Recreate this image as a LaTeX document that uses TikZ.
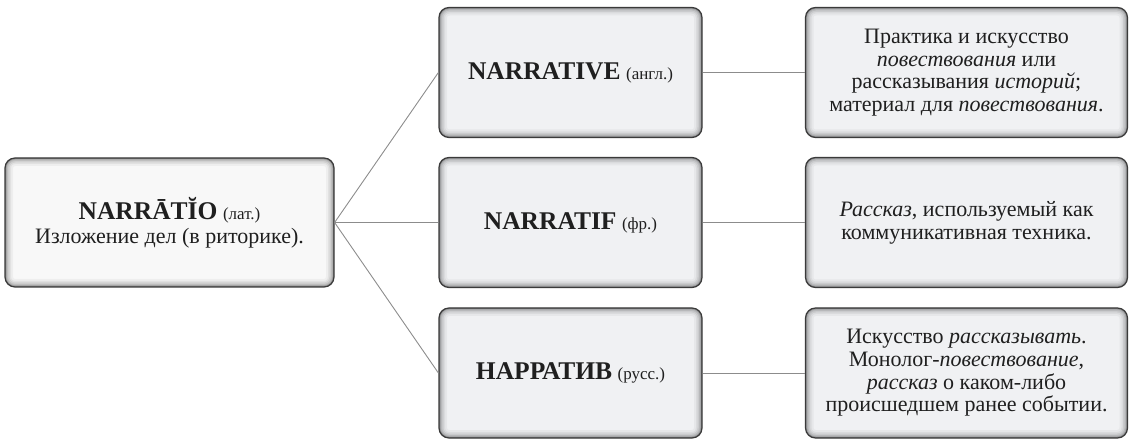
\documentclass[tikz,border=0pt]{standalone}
\usepackage{fontspec}
\setmainfont{Liberation Serif}
\definecolor{boxline}{HTML}{3A3A3A}
\definecolor{fillL}{HTML}{F8F8F8}
\definecolor{fillM}{HTML}{F0F1F3}
\definecolor{connc}{HTML}{8C8C8C}
\tikzset{
  shbox/.style={rounded corners=10pt, draw=boxline, line width=1.2pt, align=center,
    inner sep=0pt, font=\fontsize{22}{22.7}\selectfont, text=black!88,
    path picture={
      \foreach \w/\o in {16/0.04,12/0.05,9/0.07,6/0.09,3.5/0.12,1.8/0.18}{
        \draw[rounded corners=10pt, line width=\w pt, black, opacity=\o]
          (path picture bounding box.south west) rectangle (path picture bounding box.north east);
      }
    }},
  leftbox/.style={shbox, fill=fillL, minimum width=329pt, minimum height=129pt},
  midbox/.style={shbox, fill=fillM, minimum width=263pt, minimum height=130pt},
  rightbox/.style={shbox, fill=fillM, minimum width=322pt, minimum height=130pt},
  conn/.style={draw=connc, line width=0.9pt}
}
\newcommand\hdword[1]{{\fontsize{25.5}{28}\selectfont\bfseries #1}}
\newcommand\smlang[1]{{\fontsize{17}{19}\selectfont #1}}
\begin{document}
\begin{tikzpicture}[x=1pt,y=1pt]
\useasboundingbox (0,0) rectangle (1129,439);
\node[leftbox] (lat) at (169.5,216.5) {\hdword{NARRĀTĬO} \smlang{(лат.)}\\[1pt]Изложение дел (в риторике).};
\node[midbox] (eng) at (570.5,366.5) {\hdword{NARRATIVE} \smlang{(англ.)}};
\node[midbox] (fr) at (570.5,216.5) {\hdword{NARRATIF} \smlang{(фр.)}};
\node[midbox] (ru) at (570.5,66) {\hdword{НАРРАТИВ} \smlang{(русс.)}};
\node[rightbox] (deng) at (966.5,366.5) {Практика и искусство\\\textit{повествования} или\\рассказывания \textit{историй};\\материал для \textit{повествования}.};
\node[rightbox] (dfr) at (966.5,216.5) {\textit{Рассказ}, используемый как\\коммуникативная техника.};
\node[rightbox] (dru) at (966.5,66) {Искусство \textit{рассказывать}.\\Монолог-\textit{повествование},\\\textit{рассказ} о каком-либо\\происшедшем ранее событии.};
\draw[conn] (lat.east) -- (eng.west);
\draw[conn] (lat.east) -- (fr.west);
\draw[conn] (lat.east) -- (ru.west);
\draw[conn] (eng.east) -- (deng.west);
\draw[conn] (fr.east) -- (dfr.west);
\draw[conn] (ru.east) -- (dru.west);
\end{tikzpicture}
\end{document}
